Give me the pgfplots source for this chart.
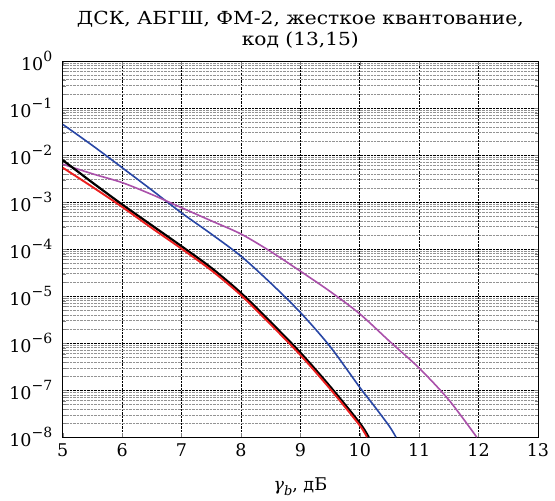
\documentclass[border=0pt]{standalone}
\usepackage{pgfplots}
\pgfplotsset{compat=1.18}
\usepackage{graphicx}
\usepackage{fontspec}
\setmainfont{DejaVu Serif}
\definecolor{cblue}{RGB}{40,70,165}
\definecolor{cpurple}{RGB}{170,80,170}
\definecolor{cred}{RGB}{235,30,30}
\newcommand{\tp}[1]{10\raisebox{0.5em}{\fontsize{14}{14}\selectfont #1}}
\begin{document}
\begin{tikzpicture}
\begin{axis}[
  scale only axis,
  width=475pt, height=376pt,
  ymode=log,
  xmin=5, xmax=13, ymin=1e-8, ymax=1,
  xtick={5,6,7,8,9,10,11,12,13},
  xticklabels={5,6,7,8,9,10,11,12,13},
  ytick={1e-8,1e-7,1e-6,1e-5,1e-4,1e-3,1e-2,1e-1,1},
  yticklabels={\tp{−8},\tp{−7},\tp{−6},\tp{−5},\tp{−4},\tp{−3},\tp{−2},\tp{−1},\tp{0}},
  tick label style={font=\fontsize{17.5}{19}\selectfont},
  xticklabel style={yshift=-3pt},
  yticklabel style={xshift=-7pt},
  tick align=inside,
  grid=both,
  major grid style={densely dotted, black, line width=0.6pt},
  minor grid style={densely dotted, gray!85, line width=0.5pt},
  minor x tick num=0,
  title={\scalebox{1.12}[1]{ДСК, АБГШ, ФМ-2, жесткое квантование,}\\[1pt]\scalebox{1.12}[1]{код (13,15)}},
  title style={font=\fontsize{18}{20}\selectfont, align=center, yshift=3pt},
  xlabel={\textit{γ}\raisebox{-0.25em}{\fontsize{13}{13}\selectfont\textit{b}}, дБ},
  xlabel style={font=\fontsize{17.5}{19}\selectfont, yshift=-14pt},
  axis line style={line width=0.9pt},
  clip=true,
]
\addplot[cblue, line width=1.6pt, smooth] coordinates {
(5,4.5e-2) (5.5,1.6e-2) (6,5.4e-3) (6.5,1.8e-3) (7,5.9e-4) (7.5,2.1e-4) (8,7.1e-5) (8.5,1.9e-5) (9,4.5e-6) (9.5,8.5e-7) (10,1.15e-7) (10.25,4.5e-8) (10.5,1.7e-8) (10.61,1e-8)};
\addplot[cpurple, line width=1.6pt, smooth] coordinates {
(5,6.4e-3) (5.5,4.0e-3) (6,2.6e-3) (6.5,1.45e-3) (7,7.6e-4) (7.5,4.0e-4) (8,2.1e-4) (8.5,8.9e-5) (9,3.4e-5) (9.5,1.26e-5) (10,4.2e-6) (10.5,1.1e-6) (11,2.95e-7) (11.5,6.2e-8) (11.97,1e-8)};
\addplot[black, line width=2.2pt, smooth] coordinates {
(5,7.8e-3) (5.5,2.6e-3) (6,8.9e-4) (6.5,3.2e-4) (7,1.15e-4) (7.5,4.0e-5) (8,1.17e-5) (8.5,2.8e-6) (9,6.3e-7) (9.5,1.2e-7) (10,2.0e-8) (10.15,1e-8)};
\addplot[cred, line width=1.9pt, smooth] coordinates {
(5,5.4e-3) (5.5,2.1e-3) (6,7.9e-4) (6.5,2.8e-4) (7,1.02e-4) (7.5,3.55e-5) (8,1.05e-5) (8.5,2.5e-6) (9,5.6e-7) (9.5,1.07e-7) (10,1.78e-8) (10.12,1e-8)};
\end{axis}
\path (current axis.south west) ++(-62.7pt,-63pt) coordinate (bbA);
\path (current axis.north east) ++(17pt,61pt) coordinate (bbB);
\useasboundingbox (bbA) rectangle (bbB);
\end{tikzpicture}
\end{document}
